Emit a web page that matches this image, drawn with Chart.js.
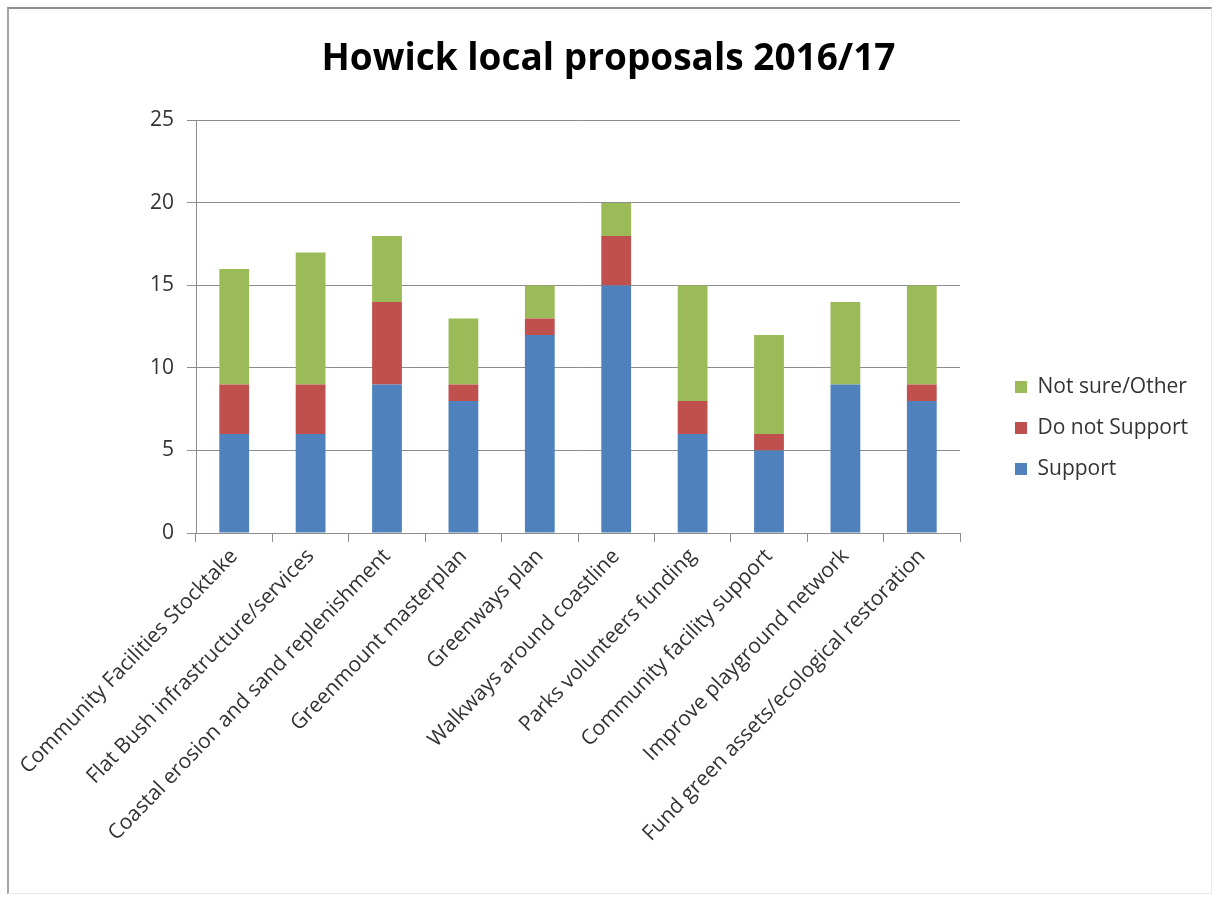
<!DOCTYPE html>
<html>
<head>
<meta charset="utf-8">
<title>Howick local proposals 2016/17</title>
<script src="https://cdn.jsdelivr.net/npm/chart.js@4.4.1/dist/chart.umd.min.js"></script>
<style>
    body { margin: 0; background: #fff; }
    #wrap { position: relative; width: 1217px; height: 900px; }
    #frame {
        position: absolute; left: 7px; top: 7px; width: 1202px; height: 884px;
        border-top: 2px solid #8f8f8f; border-left: 2px solid #a5a5a5;
        border-right: 1px solid #e8e8e8; border-bottom: 1px solid #e8e8e8;
        pointer-events: none;
    }
</style>
</head>
<body>
<div id="wrap">
    <canvas id="myChart" width="1217" height="900"></canvas>
    <div id="frame"></div>
</div>
<script>
const ctx = document.getElementById('myChart').getContext('2d');

// propuestas y respuestas
const categorias = [
    'Community Facilities Stocktake',
    'Flat Bush infrastructure/services',
    'Coastal erosion and sand replenishment',
    'Greenmount masterplan',
    'Greenways plan',
    'Walkways around coastline',
    'Parks volunteers funding',
    'Community facility support',
    'Improve playground network',
    'Fund green assets/ecological restoration'
];
const support = [6, 6, 9, 8, 12, 15, 6, 5, 9, 8];
const doNotSupport = [3, 3, 5, 1, 1, 3, 2, 1, 0, 1];
const notSure = [7, 8, 4, 4, 2, 2, 7, 6, 5, 6];
const yTicks = [0, 5, 10, 15, 20, 25];

const fuente = "'Open Sans', sans-serif";
const gris = '#8c8c8c';
const texto = '#333333';

// ancho reservado para la leyenda y hueco respecto al area del grafico
const anchoLeyenda = 257;
const huecoLeyenda = 35;

const leyendaDerecha = {
    id: 'leyendaDerecha',
    beforeLayout(chart) {
        const lg = chart.legend;
        if (lg && !lg._ajustada) {
            const fit = lg.fit;
            lg.fit = function () {
                fit.call(this);
                this.width = Math.max(this.width, anchoLeyenda);
            };
            lg._ajustada = true;
        }
    },
    afterLayout(chart) {
        if (chart.legend) {
            chart.legend.left += huecoLeyenda;
            chart.legend.right += huecoLeyenda;
        }
    }
};

const myChart = new Chart(ctx, {
    type: 'bar',
    data: {
        labels: categorias,
        datasets: [{
            label: 'Support',
            data: support,
            backgroundColor: '#4f81bd'
        }, {
            label: 'Do not Support',
            data: doNotSupport,
            backgroundColor: '#c0504d'
        }, {
            label: 'Not sure/Other',
            data: notSure,
            backgroundColor: '#9bbb59'
        }]
    },
    options: {
        responsive: false,
        animation: false,
        barPercentage: 0.39,
        categoryPercentage: 1,
        layout: {
            padding: { left: 0, right: 0, top: 0, bottom: 44 }
        },
        plugins: {
            title: {
                display: true,
                text: 'Howick local proposals 2016/17',
                color: '#000',
                font: { family: fuente, size: 37, weight: 'bold' },
                padding: { top: 37, bottom: 39 }
            },
            legend: {
                position: 'right',
                reverse: true,
                labels: {
                    boxWidth: 12,
                    boxHeight: 12,
                    padding: 20,
                    color: texto,
                    font: { family: fuente, size: 21 }
                }
            },
            tooltip: { enabled: false }
        },
        scales: {
            x: {
                stacked: true,
                grid: {
                    offset: true,
                    drawOnChartArea: false,
                    tickLength: 9,
                    color: gris
                },
                border: { color: gris },
                ticks: {
                    color: texto,
                    font: { family: fuente, size: 21 },
                    maxRotation: 46,
                    minRotation: 46,
                    autoSkip: false,
                    padding: 2
                },
                afterFit(s) {
                    s.height = 323;
                    s.paddingLeft = 0;
                }
            },
            y: {
                stacked: true,
                min: 0,
                max: 25,
                afterBuildTicks(s) {
                    s.ticks = yTicks.map(v => ({ value: v }));
                },
                grid: {
                    color: gris,
                    tickLength: 9
                },
                border: { color: gris },
                ticks: {
                    color: texto,
                    font: { family: fuente, size: 21 },
                    padding: 13
                },
                afterFit(s) {
                    s.width = 196;
                }
            }
        }
    },
    plugins: [leyendaDerecha]
});
</script>
</body>
</html>
